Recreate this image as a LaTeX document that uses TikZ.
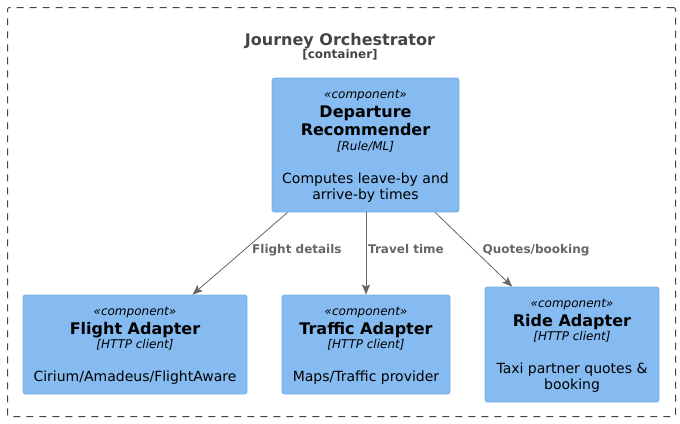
\documentclass[tikz,border=0pt]{standalone}
\usepackage{fontspec}
\setmainfont{DejaVu Sans}
\usetikzlibrary{arrows.meta}
\definecolor{compfill}{HTML}{85BBF0}
\definecolor{compline}{HTML}{78AEE6}
\definecolor{relcol}{HTML}{666666}
\definecolor{titlecol}{HTML}{444444}
\tikzset{
  comp/.style={draw=compline, fill=compfill, rounded corners=2.5pt, line width=0.8pt, inner sep=0pt},
  txt/.style={anchor=base, inner sep=0pt, text=black},
  stereo/.style={txt, font=\fontsize{12}{14}\selectfont\itshape},
  cname/.style={txt, font=\fontsize{16}{19}\selectfont\bfseries},
  tech/.style={txt, font=\fontsize{12}{14}\selectfont\itshape},
  desc/.style={txt, font=\fontsize{14}{16}\selectfont},
  rel/.style={draw=relcol, line width=0.8pt, -{Stealth[length=10pt,width=8pt,inset=2pt]}},
  rellabel/.style={anchor=base west, inner sep=0pt, text=relcol, font=\fontsize{12}{14}\selectfont\bfseries},
}
\begin{document}
\begin{tikzpicture}[x=1pt, y=-1pt]
\useasboundingbox (0,0) rectangle (680,423);
% container boundary
\node[draw=titlecol, line width=1pt, dash pattern=on 7pt off 6pt, rounded corners=2pt, minimum width=668pt, minimum height=409pt, inner sep=0pt] (orch) at (341.5,212) {};
\node[anchor=base, inner sep=0pt, text=titlecol, font=\fontsize{16}{19}\selectfont\bfseries] (orchtitle) at (340,45) {Journey Orchestrator};
\node[anchor=base, inner sep=0pt, text=titlecol, font=\fontsize{12}{14}\selectfont\bfseries] (orchtype) at (340,58) {[container]};

% Departure Recommender
\node[comp, minimum width=187pt, minimum height=134pt] (dep) at (365.5,145) {};
\node[stereo] (dep-s) at (365.5,98.5) {«component»};
\node[cname] (dep-n1) at (365.5,117) {Departure};
\node[cname] (dep-n2) at (365.5,135) {Recommender};
\node[tech] (dep-t) at (365.5,150) {[Rule/ML]};
\node[desc] (dep-d1) at (365.5,183) {Computes leave-by and};
\node[desc] (dep-d2) at (365.5,199) {arrive-by times};

% Flight Adapter
\node[comp, minimum width=224pt, minimum height=99pt] (flight) at (135,344.5) {};
\node[stereo] (fl-s) at (135,315) {«component»};
\node[cname] (fl-n) at (135,334) {Flight Adapter};
\node[tech] (fl-t) at (135,348) {[HTTP client]};
\node[desc] (fl-d) at (135,381) {Cirium/Amadeus/FlightAware};

% Traffic Adapter
\node[comp, minimum width=168pt, minimum height=99pt] (traffic) at (366,344.5) {};
\node[stereo] (tr-s) at (366,315) {«component»};
\node[cname] (tr-n) at (366,334) {Traffic Adapter};
\node[tech] (tr-t) at (366,348) {[HTTP client]};
\node[desc] (tr-d) at (366,381) {Maps/Traffic provider};

% Ride Adapter
\node[comp, minimum width=174pt, minimum height=115pt] (ride) at (572,344.5) {};
\node[stereo] (ri-s) at (572,307) {«component»};
\node[cname] (ri-n) at (572,326) {Ride Adapter};
\node[tech] (ri-t) at (572,340) {[HTTP client]};
\node[desc] (ri-d1) at (572,373) {Taxi partner quotes \&};
\node[desc] (ri-d2) at (572,389) {booking};

% relations
\draw[rel] (dep) -- (flight);
\draw[rel] (dep.south -| traffic.north) -- (traffic.north);
\draw[rel] (dep) -- (ride);
\node[rellabel] (l1) at (252,253) {Flight details};
\node[rellabel] (l2) at (368,253) {Travel time};
\node[rellabel] (l3) at (482.5,253) {Quotes/booking};
\end{tikzpicture}
\end{document}
